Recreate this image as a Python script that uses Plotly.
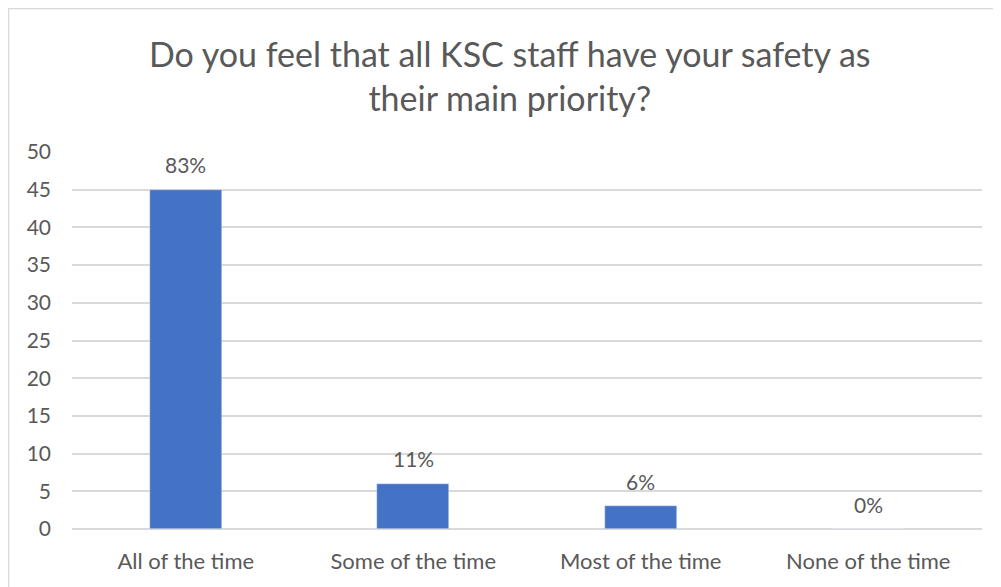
import plotly.graph_objects as go

# survey responses
categories = ['All of the time', 'Some of the time', 'Most of the time', 'None of the time']
counts = [45, 6, 3, 0]
pct_labels = ['83%', '11%', '6%', '0%']

FONT = 'Lato'
GREY = '#595959'

fig = go.Figure()
fig.add_trace(go.Bar(
    x=categories,
    y=counts,
    marker=dict(color='#4472c4'),
    width=0.315,
    hoverinfo='x+y',
))

# data labels sit a fixed distance above each bar
for cat, val, lab in zip(categories, counts, pct_labels):
    fig.add_annotation(
        x=cat, y=val, text=lab, showarrow=False,
        yshift=25, yanchor='middle',
        font=dict(family=FONT, size=21, color=GREY),
    )

# two-line chart title
fig.add_annotation(
    xref='paper', yref='paper', x=0.481, y=1.204,
    text='Do you feel that all KSC staff have your safety as<br>their main priority?',
    showarrow=False, xanchor='center', yanchor='middle',
    font=dict(family=FONT, size=34, color=GREY),
)

fig.update_layout(
    width=993, height=579,
    margin=dict(l=64, r=19, t=144, b=58),
    paper_bgcolor='white',
    plot_bgcolor='white',
    showlegend=False,
    font=dict(family=FONT, color=GREY),
    xaxis=dict(
        showgrid=False,
        showline=False,
        ticks='',
        ticklabelstandoff=17,
        tickfont=dict(family=FONT, size=22, color=GREY),
    ),
    yaxis=dict(
        range=[0, 50],
        dtick=5,
        showgrid=True,
        gridcolor='#d9d9d9',
        gridwidth=1.5,
        zeroline=True,
        zerolinecolor='#d9d9d9',
        zerolinewidth=1.5,
        ticks='',
        ticklabelstandoff=20,
        tickfont=dict(family=FONT, size=21, color=GREY),
    ),
    bargap=0,
)

# light chart frame along the left and top edges
fig.add_shape(
    type='rect', xref='paper', yref='paper',
    x0=-0.0698, x1=1.1, y0=-0.3, y1=1.3806,
    line=dict(color='#d9d9d9', width=1.5),
    fillcolor='rgba(0,0,0,0)',
    layer='below',
)

fig.write_html('out.html')
